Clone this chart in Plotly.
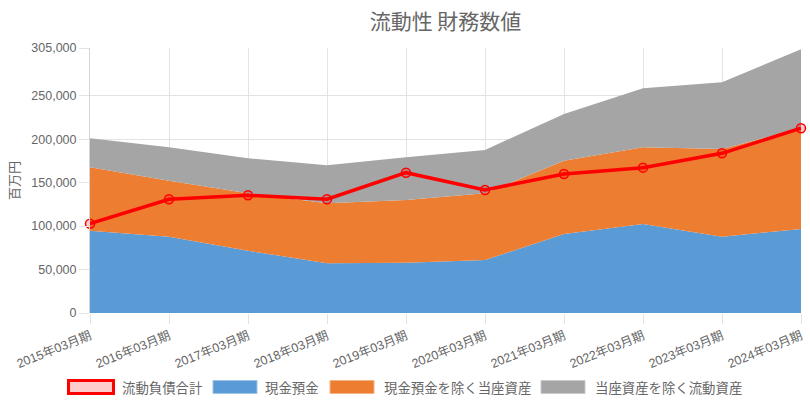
import plotly.graph_objects as go

# 決算期
periods = ["2015年03月期", "2016年03月期", "2017年03月期", "2018年03月期", "2019年03月期",
           "2020年03月期", "2021年03月期", "2022年03月期", "2023年03月期", "2024年03月期"]

# 百万円
cash = [94700, 87800, 71700, 57200, 57900, 61000, 90900, 102400, 87800, 96700]
quick_ex_cash = [73000, 64500, 66100, 69000, 72200, 76800, 84400, 88300, 101000, 115900]
current_ex_quick = [33300, 38400, 40200, 43800, 49100, 49800, 53700, 67900, 76700, 90900]
current_liab = [102800, 130900, 135500, 130900, 161500, 141600, 160000, 167300, 183800, 212600]

y_ticks = [0, 50000, 100000, 150000, 200000, 250000, 305000]

W, H = 810, 405
L, R, T, B = 90, 9, 48, 92
PW, PH = W - L - R, H - T - B

FONT = "Noto Sans CJK JP, Liberation Sans, sans-serif"
TICK_FONT = "Liberation Sans, Arial, Noto Sans CJK JP, sans-serif"
GREY = "#666666"


def px(x):
    return (x - L) / PW


def py(y):
    return (H - B - y) / PH


fig = go.Figure()

fig.add_trace(go.Scatter(x=periods, y=cash, name="現金預金", stackgroup="a",
                         mode="none", fillcolor="#5B9BD5"))
fig.add_trace(go.Scatter(x=periods, y=quick_ex_cash, name="現金預金を除く当座資産", stackgroup="a",
                         mode="none", fillcolor="#ED7D31"))
fig.add_trace(go.Scatter(x=periods, y=current_ex_quick, name="当座資産を除く流動資産", stackgroup="a",
                         mode="none", fillcolor="#A5A5A5"))
fig.add_trace(go.Scatter(x=periods, y=current_liab, name="流動負債合計", mode="lines+markers",
                         line=dict(color="#FF0000", width=3.5),
                         marker=dict(size=9, color="rgba(255,0,0,0.2)",
                                     line=dict(color="#FF0000", width=1.5)),
                         cliponaxis=False))

# legend drawn by hand (chart.js style boxes)
legend = [
    ("流動負債合計", 68.5, 113.5, "rgba(255,0,0,0.2)", "#FF0000", 3, 120),
    ("現金預金", 213, 257, "#5B9BD5", "#9DC3E6", 1, 263),
    ("現金預金を除く当座資産", 330, 374, "#ED7D31", "#F4B183", 1, 382),
    ("当座資産を除く流動資産", 541, 585, "#A5A5A5", "#C9C9C9", 1, 593),
]
for text, x0, x1, fill, edge, lw, tx in legend:
    fig.add_shape(type="rect", xref="paper", yref="paper",
                  x0=px(x0), x1=px(x1), y0=py(380.5), y1=py(393.5),
                  fillcolor=fill, line=dict(color=edge, width=lw))
    fig.add_annotation(text=text, xref="paper", yref="paper", x=px(tx), y=py(386.5),
                       xanchor="left", yanchor="middle", showarrow=False,
                       font=dict(size=13.4, color=GREY, family=FONT))

fig.update_layout(
    width=W, height=H,
    margin=dict(l=L, r=R, t=T, b=B),
    paper_bgcolor="white", plot_bgcolor="white",
    showlegend=False,
    font=dict(family=FONT, color=GREY, size=13),
    title=dict(text="流動性 財務数値", x=0.5, xref="paper", y=1 - 22 / H, yanchor="middle",
               font=dict(size=21, color=GREY, family=FONT)),
    xaxis=dict(type="category", range=[0, 9], showgrid=True, gridcolor="#E3E3E3",
               ticks="outside", ticklen=10, tickcolor="#E3E3E3", tickangle=-22,
               showline=False, zeroline=False, automargin=False,
               tickfont=dict(size=12.5, color=GREY, family=TICK_FONT)),
    yaxis=dict(range=[0, 305000], tickmode="array", tickvals=y_ticks,
               ticktext=[f"{v:,}" for v in y_ticks], showgrid=True, gridcolor="#E3E3E3",
               ticks="outside", ticklen=10, tickcolor="#E3E3E3", showline=True,
               linecolor="#D5D5D5", zeroline=False, automargin=False,
               tickfont=dict(size=12.5, color=GREY, family=TICK_FONT),
               title=dict(text="百万円", standoff=8, font=dict(size=13, color=GREY))),
)

# drop the browser's default body margin so the figure sits at the page corner
fig.write_html("out.html", config={"displayModeBar": False},
               post_script="document.body.style.margin='0';")
